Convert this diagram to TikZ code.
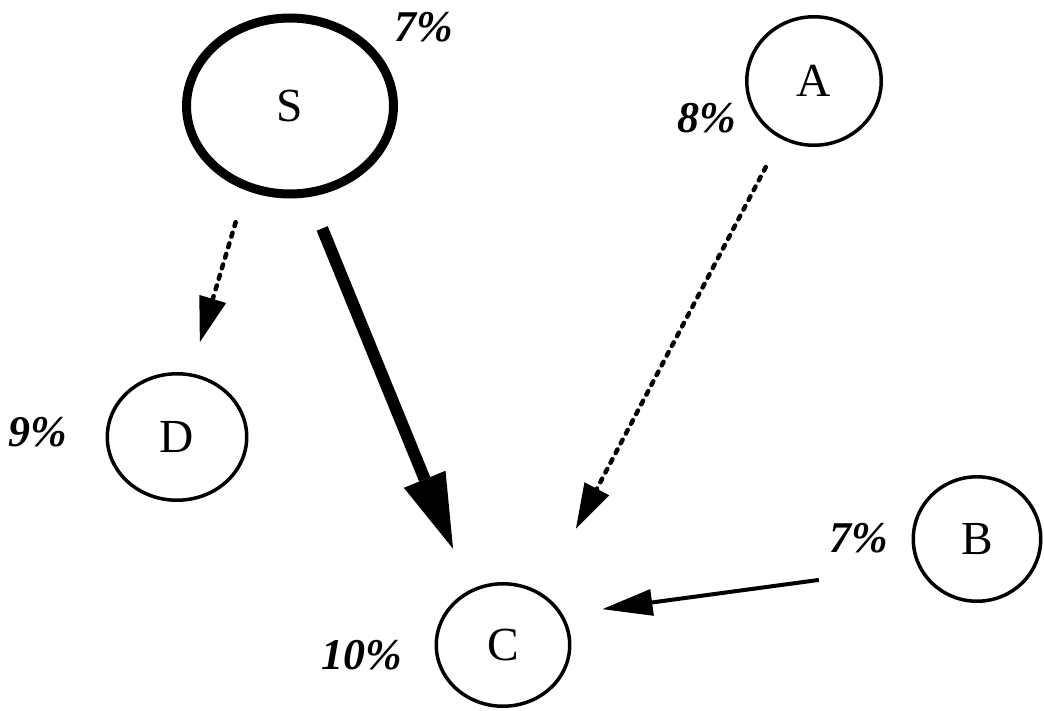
\documentclass[tikz,border=0pt]{standalone}
\usepackage{fontspec}
\setmainfont{Liberation Serif}
\usetikzlibrary{arrows.meta,shapes.geometric}
\tikzset{
    state/.style={ellipse, draw=black, line width=0.07cm, inner sep=0pt, font=\fontsize{27}{27}\selectfont},
    startstate/.style={state, line width=0.18cm, minimum width=4.14cm, minimum height=3.52cm},
    pct/.style={font=\fontsize{25}{25}\selectfont\bfseries\itshape},
    weak/.style={line width=0.09cm, dash pattern=on 0.08cm off 0.14cm, line cap=round,
        -{Triangle[length=0.9cm, width=0.56cm, line width=0pt]}},
    strong/.style={line width=0.24cm, -{Triangle[length=1.5cm, width=0.9cm, line width=0pt]}},
    solidarrow/.style={line width=0.08cm, -{Triangle[length=1cm, width=0.54cm, line width=0pt]}}
}

\begin{document}
\begin{tikzpicture}[x=0.02cm, y=-0.02cm]
  \useasboundingbox (0,0) rectangle (1044,710);

  % states
  \node [startstate] (S) at (290,106) {S};
  \node [state, minimum width=2.69cm, minimum height=2.57cm] (A) at (814,81) {A};
  \node [state, minimum width=2.79cm, minimum height=2.53cm] (D) at (177,437) {D};
  \node [state, minimum width=2.55cm, minimum height=2.49cm] (B) at (977,539) {B};
  \node [state, minimum width=2.67cm, minimum height=2.45cm] (C) at (503,645) {C};

  % percentages
  \node [pct] (pS) at (424,27) {7\%};
  \node [pct] (pA) at (707,118) {8\%};
  \node [pct] (pD) at (38,432) {9\%};
  \node [pct] (pB) at (859,538) {7\%};
  \node [pct] (pC) at (362,655) {10\%};

  % transitions
  \draw [weak, shorten <=0.67cm, shorten >=0.65cm] (S.242) -- (D.78);
  \draw [strong, shorten <=0.68cm, shorten >=0.89cm] (S.282) -- (C.121);
  \draw [weak, shorten <=0.64cm, shorten >=1.46cm] (A.240) -- (C.53);
  \draw [solidarrow, shorten <=2cm, shorten >=0.8cm] (B.205) -- (C.27);
\end{tikzpicture}
\end{document}
